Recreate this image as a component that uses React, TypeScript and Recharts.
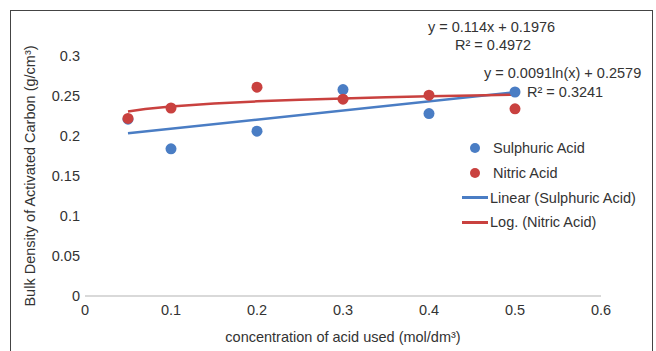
import React from 'react';
import { ScatterChart, Scatter, XAxis, YAxis, Label } from 'recharts';

const concentrations = [0.05, 0.1, 0.2, 0.3, 0.4, 0.5];
const sulphuricDensity = [0.221, 0.184, 0.206, 0.258, 0.228, 0.255];
const nitricDensity = [0.222, 0.235, 0.261, 0.246, 0.251, 0.234];

// trendlines as drawn in the reference
const linearTrendX = [0.05, 0.5];
const linearTrendY = [0.2033, 0.2546];
const logTrendX = [0.05, 0.07, 0.1, 0.15, 0.2, 0.25, 0.3, 0.35, 0.4, 0.45, 0.5];
const logTrendY = [0.2306, 0.2337, 0.2369, 0.2406, 0.2433, 0.2453, 0.2469, 0.2483, 0.2496, 0.2506, 0.2516];

const xTicks = [0, 0.1, 0.2, 0.3, 0.4, 0.5, 0.6];
const yTicks = [0, 0.05, 0.1, 0.15, 0.2, 0.25, 0.3];

const BLUE = '#4a7dc4';
const RED = '#c9413f';
const FONT = '"Liberation Sans", Arial, sans-serif';
const TEXT = '#333';

const sulphuric = concentrations.map((x, i) => ({ x, y: sulphuricDensity[i] }));
const nitric = concentrations.map((x, i) => ({ x, y: nitricDensity[i] }));
const linearTrend = linearTrendX.map((x, i) => ({ x, y: linearTrendY[i] }));
const logTrend = logTrendX.map((x, i) => ({ x, y: logTrendY[i] }));

const legendItems = [
  { label: 'Sulphuric Acid', color: BLUE, kind: 'dot' },
  { label: 'Nitric Acid', color: RED, kind: 'dot' },
  { label: 'Linear (Sulphuric Acid)', color: BLUE, kind: 'line' },
  { label: 'Log. (Nitric Acid)', color: RED, kind: 'line' },
];

const ChartLegend = () => (
  <div style={{ position: 'absolute', left: 460, top: 136, fontFamily: FONT, fontSize: 14.5, color: TEXT }}>
    {legendItems.map((it) => (
      <div key={it.label} style={{ height: 24.7, display: 'flex', alignItems: 'center' }}>
        <div style={{ width: 30, display: 'flex', justifyContent: 'center' }}>
          {it.kind === 'dot' ? (
            <div style={{ width: 10, height: 10, borderRadius: 5, background: it.color }} />
          ) : (
            <div style={{ width: 26, height: 3, background: it.color }} />
          )}
        </div>
        <span style={{ marginLeft: it.kind === 'dot' ? 3 : 0, whiteSpace: 'nowrap' }}>{it.label}</span>
      </div>
    ))}
  </div>
);

const noShape = () => <g />;

const eqStyle: React.CSSProperties = {
  position: 'absolute',
  fontFamily: FONT,
  fontSize: 14.5,
  color: TEXT,
  whiteSpace: 'nowrap',
  lineHeight: '18px',
};

export default function App() {
  return (
    <div style={{ position: 'absolute', left: 0, top: 0, width: 656, height: 351, background: '#fff', overflow: 'hidden' }}>
      <div
        style={{
          position: 'absolute',
          left: 10,
          top: 10,
          width: 643,
          height: 380,
          border: '1.5px solid #444',
          boxSizing: 'border-box',
        }}
      />
      <ScatterChart width={656} height={351} margin={{ top: 56, right: 55, bottom: 5, left: 25 }}>
        <XAxis
          type="number"
          dataKey="x"
          domain={[0, 0.6]}
          ticks={xTicks}
          tickLine={false}
          tickSize={0}
          tickMargin={9}
          height={50}
          axisLine={{ stroke: '#d9d9d9', strokeWidth: 2 }}
          tick={{ fill: TEXT, fontSize: 14.5, fontFamily: FONT }}
        >
          <Label
            value="concentration of acid used (mol/dm³)"
            position="insideBottom"
            offset={4}
            style={{ fill: TEXT, fontSize: 14.5, fontFamily: FONT }}
          />
        </XAxis>
        <YAxis
          type="number"
          dataKey="y"
          domain={[0, 0.3]}
          ticks={yTicks}
          tickLine={false}
          axisLine={false}
          tickSize={0}
          tickMargin={5}
          width={60}
          tick={{ fill: TEXT, fontSize: 14.5, fontFamily: FONT }}
        >
          <Label
            value="Bulk Density of Activated Carbon (g/cm³)"
            angle={-90}
            position="insideLeft"
            offset={5}
            style={{ fill: TEXT, fontSize: 14.5, fontFamily: FONT, textAnchor: 'middle' }}
          />
        </YAxis>
        <Scatter
          name="Linear (Sulphuric Acid)"
          data={linearTrend}
          line={{ stroke: BLUE, strokeWidth: 2.5 }}
          lineType="joint"
          shape={noShape}
          isAnimationActive={false}
        />
        <Scatter
          name="Log. (Nitric Acid)"
          data={logTrend}
          line={{ stroke: RED, strokeWidth: 2.5 }}
          lineType="joint"
          shape={noShape}
          isAnimationActive={false}
        />
        <Scatter name="Sulphuric Acid" data={sulphuric} fill={BLUE} shape={(p: any) => <circle cx={p.cx} cy={p.cy} r={5.5} fill={BLUE} />} isAnimationActive={false} />
        <Scatter name="Nitric Acid" data={nitric} fill={RED} shape={(p: any) => <circle cx={p.cx} cy={p.cy} r={5.5} fill={RED} />} isAnimationActive={false} />
      </ScatterChart>
      <ChartLegend />
      <div style={{ ...eqStyle, left: 428, top: 18 }}>y = 0.114x + 0.1976</div>
      <div style={{ ...eqStyle, left: 455, top: 36 }}>R² = 0.4972</div>
      <div style={{ ...eqStyle, left: 484, top: 64 }}>y = 0.0091ln(x) + 0.2579</div>
      <div style={{ ...eqStyle, left: 527, top: 83 }}>R² = 0.3241</div>
    </div>
  );
}
